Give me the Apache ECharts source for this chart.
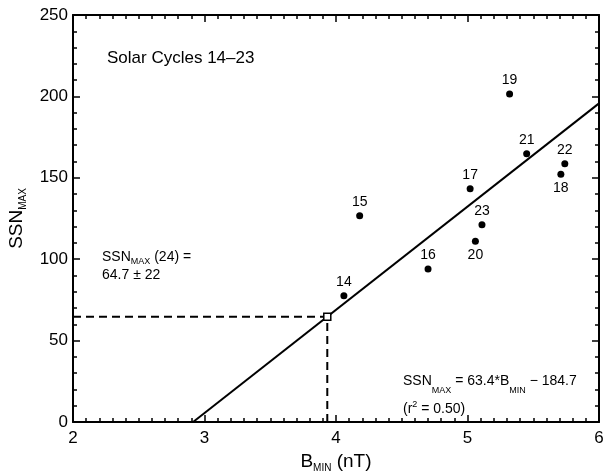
<!DOCTYPE html>
<html>
<head>
<meta charset="utf-8">
<script src="https://cdn.jsdelivr.net/npm/echarts@6/dist/echarts.min.js"></script>
<style>
html,body{margin:0;padding:0;background:#fff;}
#c{width:606px;height:472px;}
</style>
</head>
<body>
<div id="c"></div>
<script>
// ---- data ----
var cycles = ['14','15','16','17','18','19','20','21','22','23'];
var bMin   = [4.06, 4.18, 4.70, 5.02, 5.71, 5.32, 5.06, 5.45, 5.74, 5.11];
var ssnMax = [77.6, 126.7, 94.0, 143.3, 152.2, 201.5, 111.0, 164.8, 158.7, 121.2];
var labelsBelow = ['18', '20'];
var fitSlope = 63.4;
var fitIntercept = -184.7;
var predSSN = 64.7;
var predB = (predSSN - fitIntercept) / fitSlope;
var xTicks = [2, 3, 4, 5, 6];
var yTicks = [0, 50, 100, 150, 200, 250];

var FONT = '"Liberation Sans", Arial, Helvetica, sans-serif';
var chart = echarts.init(document.getElementById('c'));

var xMin = xTicks[0], xMax = xTicks[xTicks.length - 1];
var yMin = yTicks[0], yMax = yTicks[yTicks.length - 1];
var fitStartX = -fitIntercept / fitSlope;
var fitLine = [[fitStartX, 0], [xMax, fitSlope * xMax + fitIntercept]];

var pts = bMin.map(function (b, i) {
  var below = labelsBelow.indexOf(cycles[i]) >= 0;
  return {
    value: [b, ssnMax[i]],
    name: cycles[i],
    label: { position: below ? 'bottom' : 'top', distance: 3 }
  };
});

function axisCommon(showLabel) {
  return {
    axisLine: { show: true, onZero: false, lineStyle: { color: '#000', width: 2 } },
    axisTick: { show: true, inside: true, length: 7, lineStyle: { color: '#000', width: 1.5 } },
    minorTick: { show: true, length: 4, lineStyle: { color: '#000', width: 1.5 } },
    splitLine: { show: false },
    axisLabel: { show: showLabel, color: '#000', fontSize: 17, fontFamily: FONT }
  };
}

var xBottom = Object.assign(axisCommon(true), {
  type: 'value', min: xMin, max: xMax, interval: 1, position: 'bottom',
  name: '{b|B}{s|MIN}{b| (nT)}', nameLocation: 'middle', nameGap: 24,
  nameTextStyle: { rich: {
    b: { fontSize: 19, fontFamily: FONT, color: '#000', lineHeight: 24, verticalAlign: 'middle' },
    s: { fontSize: 10, fontFamily: FONT, color: '#000', lineHeight: 24, verticalAlign: 'bottom' }
  } }
});
xBottom.minorTick.splitNumber = 10;
xBottom.axisLabel.margin = 8;

var xTop = Object.assign(axisCommon(false), {
  type: 'value', min: xMin, max: xMax, interval: 1, position: 'top'
});
xTop.minorTick.splitNumber = 10;

var yLeft = Object.assign(axisCommon(true), {
  type: 'value', min: yMin, max: yMax, interval: 50, position: 'left',
  name: '{b|SSN}{s|MAX}', nameLocation: 'middle', nameGap: 39, nameRotate: 90,
  nameTextStyle: { rich: {
    b: { fontSize: 19, fontFamily: FONT, color: '#000', lineHeight: 24, verticalAlign: 'middle' },
    s: { fontSize: 10, fontFamily: FONT, color: '#000', lineHeight: 24, verticalAlign: 'bottom' }
  } }
});
yLeft.minorTick.splitNumber = 5;
yLeft.axisLabel.margin = 5;

var yRight = Object.assign(axisCommon(false), {
  type: 'value', min: yMin, max: yMax, interval: 50, position: 'right'
});
yRight.minorTick.splitNumber = 5;

var richSmall = {
  b: { fontSize: 14, fontFamily: FONT, fill: '#000', lineHeight: 18, verticalAlign: 'middle' },
  s: { fontSize: 9, fontFamily: FONT, fill: '#000', lineHeight: 18, verticalAlign: 'bottom' }
};

chart.setOption({
  animation: false,
  backgroundColor: '#fff',
  grid: { left: 73, right: 7, top: 15, bottom: 50, containLabel: false, outerBoundsMode: 'none' },
  xAxis: [xBottom, xTop],
  yAxis: [yLeft, yRight],
  series: [
    {
      type: 'line', xAxisIndex: 0, yAxisIndex: 0,
      data: fitLine, symbol: 'none',
      lineStyle: { color: '#000', width: 2 }, z: 3
    },
    {
      type: 'line', data: [[xMin, predSSN], [predB, predSSN]], symbol: 'none',
      lineStyle: { color: '#000', width: 2, type: [8, 5] }, z: 2
    },
    {
      type: 'line', data: [[predB, yMin], [predB, predSSN]], symbol: 'none',
      lineStyle: { color: '#000', width: 2, type: [8, 5] }, z: 2
    },
    {
      type: 'scatter', data: [[predB, predSSN]], symbol: 'rect', symbolSize: 7,
      itemStyle: { color: '#fff', borderColor: '#000', borderWidth: 1.5, opacity: 1 }, z: 5
    },
    {
      type: 'scatter', data: pts, symbol: 'circle', symbolSize: 7,
      itemStyle: { color: '#000', opacity: 1 }, z: 6,
      label: {
        show: true, formatter: '{b}', color: '#000', opacity: 1, fontSize: 14, fontFamily: FONT
      }
    }
  ],
  graphic: [
    {
      type: 'text', left: 107, top: 50,
      style: { text: 'Solar Cycles 14\u201323', font: '17px ' + FONT, fill: '#000' }
    },
    {
      type: 'text', left: 102, top: 250,
      style: {
        text: '{b|SSN}{s|MAX}{b| (24) =}\n{b|64.7 \u00b1 22}',
        rich: richSmall
      }
    },
    {
      type: 'text', left: 403, top: 374,
      style: {
        text: '{b|SSN}{s|MAX}{b| = 63.4*B}{s|MIN}{b| \u2212 184.7}\n{b|(r}{p|2}{b| = 0.50)}',
        rich: {
          b: { fontSize: 14, fontFamily: FONT, fill: '#000', lineHeight: 28, verticalAlign: 'middle' },
          s: { fontSize: 9, fontFamily: FONT, fill: '#000', lineHeight: 28, verticalAlign: 'bottom' },
          p: { fontSize: 9, fontFamily: FONT, fill: '#000', lineHeight: 28, verticalAlign: 'top', padding: [5, 0, 0, 0] }
        }
      }
    }
  ]
});
</script>
</body>
</html>
